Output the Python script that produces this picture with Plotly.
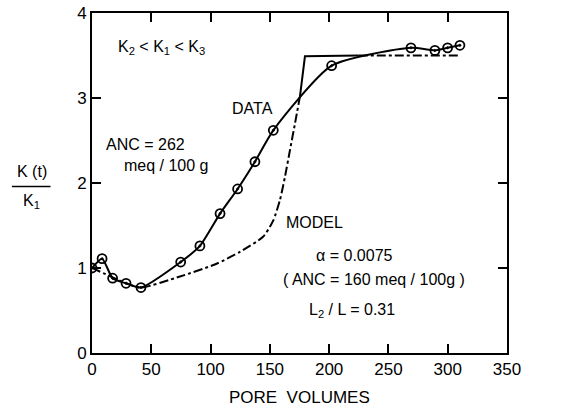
import plotly.graph_objects as go

# Measured data (pore volumes vs K(t)/K1)
data_x = [0, 8.5, 17.4, 28.7, 41.3, 74.8, 91, 108, 122.8, 137.4, 152.9, 202.1, 269, 289.2, 299.9, 310.3]
data_y = [1.0, 1.11, 0.88, 0.82, 0.77, 1.07, 1.26, 1.64, 1.93, 2.25, 2.62, 3.38, 3.59, 3.56, 3.59, 3.62]

# Model curve (dash-dot)
model_x = [0, 17.4, 28.7, 41.3, 74.2, 105, 124.8, 144.5, 152.9, 158.5, 162.7, 167, 171.2, 175.4]
model_y = [1.0, 0.89, 0.82, 0.77, 0.90, 1.05, 1.19, 1.37, 1.56, 1.80, 2.07, 2.39, 2.70, 3.02]
# Model step (solid) and plateau tail (dash-dot)
step_x = [175.4, 179.6, 225]
step_y = [3.02, 3.49, 3.5]
tail_x = [225, 310.3]
tail_y = [3.5, 3.5]

x_ticks = [0, 50, 100, 150, 200, 250, 300, 350]
y_ticks = [0, 1, 2, 3, 4]

FONT = "Liberation Sans"
fig = go.Figure()

fig.add_trace(go.Scatter(x=model_x, y=model_y, mode="lines",
                         line=dict(color="black", width=2, dash="dashdot", shape="spline", smoothing=0.6),
                         showlegend=False, hoverinfo="skip"))
fig.add_trace(go.Scatter(x=step_x, y=step_y, mode="lines",
                         line=dict(color="black", width=2),
                         showlegend=False, hoverinfo="skip"))
fig.add_trace(go.Scatter(x=tail_x, y=tail_y, mode="lines",
                         line=dict(color="black", width=2, dash="dashdot"),
                         showlegend=False, hoverinfo="skip"))
fig.add_trace(go.Scatter(x=data_x, y=data_y, mode="lines+markers",
                         line=dict(color="black", width=2, shape="spline", smoothing=0.6),
                         marker=dict(symbol="circle-open-dot", size=9, color="black",
                                     line=dict(width=1.8, color="black")),
                         showlegend=False))

ann = [
    dict(x=20, y=3.6, text="K<sub>2</sub> < K<sub>1</sub> < K<sub>3</sub>", xanchor="left"),
    dict(x=135, y=2.88, text="DATA", xanchor="center"),
    dict(x=10, y=2.45, text="ANC = 262", xanchor="left"),
    dict(x=25, y=2.21, text="meq / 100 g", xanchor="left"),
    dict(x=162, y=1.53, text="MODEL", xanchor="left"),
    dict(x=187, y=1.15, text="α = 0.0075", xanchor="left"),
    dict(x=159, y=0.86, text="( ANC = 160 meq / 100g )", xanchor="left"),
    dict(x=181, y=0.5, text="L<sub>2</sub> / L = 0.31", xanchor="left"),
]
annotations = []
for a in ann:
    annotations.append(dict(x=a["x"], y=a["y"], xref="x", yref="y", text=a["text"],
                            xanchor=a["xanchor"], yanchor="middle", showarrow=False,
                            font=dict(family=FONT, size=16, color="black")))
annotations += [
    dict(x=-0.145, y=0.535, xref="paper", yref="paper", text="K (t)", showarrow=False,
         font=dict(family=FONT, size=16, color="black"), xanchor="center", yanchor="middle"),
    dict(x=-0.145, y=0.445, xref="paper", yref="paper", text="K<sub>1</sub>", showarrow=False,
         font=dict(family=FONT, size=16, color="black"), xanchor="center", yanchor="middle"),
    dict(x=0.5, y=-0.132, xref="paper", yref="paper", text="PORE  VOLUMES", showarrow=False,
         font=dict(family=FONT, size=17, color="black"), xanchor="center", yanchor="middle"),
]

fig.update_layout(
    width=567, height=407,
    margin=dict(l=92, r=60, t=13, b=54),
    paper_bgcolor="white", plot_bgcolor="white",
    annotations=annotations,
    shapes=[dict(type="line", xref="paper", yref="paper", x0=-0.193, x1=-0.1, y0=0.49, y1=0.49,
                 line=dict(color="black", width=1.5))],
    xaxis=dict(range=[0, 350], tickvals=x_ticks, ticks="inside", ticklen=9, tickwidth=1.5,
               tickcolor="black", showline=True, linecolor="black", linewidth=2, mirror="ticks",
               showgrid=False, zeroline=False, automargin=False, ticklabeloverflow="allow",
               tickfont=dict(family=FONT, size=17, color="black")),
    yaxis=dict(range=[0, 4], tickvals=y_ticks, ticks="inside", ticklen=9, tickwidth=1.5,
               tickcolor="black", showline=True, linecolor="black", linewidth=2, mirror="ticks",
               showgrid=False, zeroline=False, automargin=False, ticklabeloverflow="allow",
               tickfont=dict(family=FONT, size=17, color="black")),
)

# Remove the browser's default 8px body margin so the figure sits at the page's top-left corner.
fig.write_html("out.html", config={"displayModeBar": False},
               post_script="document.body.style.margin='0';")
